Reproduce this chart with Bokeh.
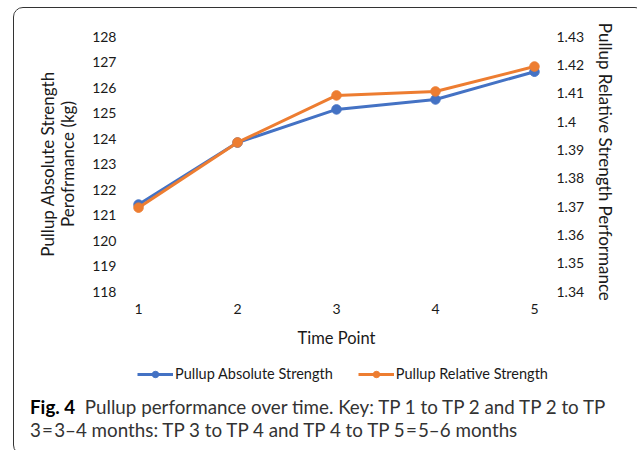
from bokeh.plotting import figure
from bokeh.models import (Range1d, LinearAxis, Legend, LegendItem,
                          FixedTicker, ColumnDataSource, Div)
from bokeh.layouts import column
from bokeh.embed import file_html
from bokeh.resources import INLINE

time_points = [1, 2, 3, 4, 5]
absolute_strength = [121.41, 123.84, 125.14, 125.53, 126.62]
relative_strength = [1.3696, 1.3926, 1.4092, 1.4106, 1.4194]
left_ticks = [118, 119, 120, 121, 122, 123, 124, 125, 126, 127, 128]
right_ticks = [1.34, 1.35, 1.36, 1.37, 1.38, 1.39, 1.40, 1.41, 1.42, 1.43]
right_tick_labels = {1.34: "1.34", 1.35: "1.35", 1.36: "1.36", 1.37: "1.37",
                     1.38: "1.38", 1.39: "1.39", 1.40: "1.4", 1.41: "1.41",
                     1.42: "1.42", 1.43: "1.43"}
series_names = ["Pullup Absolute Strength", "Pullup Relative Strength"]

BLUE = "#4472C4"
ORANGE = "#ED7D31"
FONT = "Lato"
TXT = "#1a1a1a"

# page layout: box at x 13..635, y 7..445
W = 620
H = 348
LH = 32
CH = 56
FL, FR, FT, FB = 107, 537, 28, 283  # frame in figure coords

p = figure(width=W, height=H, output_backend="svg", toolbar_location=None,
           x_range=Range1d(0.828, 5.172), y_range=Range1d(118, 128),
           min_border_left=FL, min_border_right=W - FR,
           min_border_top=FT, min_border_bottom=H - FB)
p.extra_y_ranges = {"rel": Range1d(1.34, 1.43)}
p.outline_line_color = None
p.xgrid.visible = False
p.ygrid.visible = False
p.background_fill_color = "white"
p.border_fill_color = "white"


def style_axis(ax, standoff):
    ax.axis_line_color = None
    ax.major_tick_line_color = None
    ax.minor_tick_line_color = None
    ax.major_tick_out = 0
    ax.major_tick_in = 0
    ax.minor_tick_out = 0
    ax.minor_tick_in = 0
    ax.major_label_text_font = FONT
    ax.major_label_text_font_size = "14px"
    ax.major_label_text_color = TXT
    ax.major_label_standoff = standoff
    ax.axis_label_text_font = FONT
    ax.axis_label_text_font_style = "normal"
    ax.axis_label_text_color = TXT
    ax.axis_label_text_font_size = "17px"


p.xaxis.ticker = FixedTicker(ticks=time_points)
p.yaxis.ticker = FixedTicker(ticks=left_ticks)
style_axis(p.xaxis[0], 12)
style_axis(p.yaxis[0], 5)
p.xaxis.axis_label = "Time Point"
p.xaxis.axis_label_text_font_size = "16.5px"
p.xaxis.axis_label_standoff = 11
p.yaxis.axis_label = "Perofrmance (kg)"
p.yaxis.axis_label_standoff = 11

# outer line of the two-line left axis title
lax2 = LinearAxis(ticker=FixedTicker(ticks=[]))
style_axis(lax2, 0)
lax2.axis_label = "Pullup Absolute Strength"
lax2.axis_label_standoff = -3
p.add_layout(lax2, "left")

rax = LinearAxis(y_range_name="rel", ticker=FixedTicker(ticks=right_ticks),
                 major_label_overrides=right_tick_labels)
style_axis(rax, 5)
rax.axis_label = "Pullup Relative Strength  Performance"
rax.axis_label_standoff = 8
p.add_layout(rax, "right")

src = ColumnDataSource(dict(x=time_points, a=absolute_strength, r=relative_strength))
p.line("x", "a", source=src, line_color=BLUE, line_width=3)
p.scatter("x", "a", source=src, size=9.5, fill_color=BLUE, line_color=BLUE)
p.line("x", "r", source=src, line_color=ORANGE, line_width=3, y_range_name="rel")
p.scatter("x", "r", source=src, size=9.5, fill_color=ORANGE, line_color=ORANGE,
          y_range_name="rel")

# legend strip (separate figure so the legend is not clipped by the chart frame)
lf = figure(width=W, height=LH, output_backend="svg", toolbar_location=None,
            x_range=Range1d(-10, -9), y_range=Range1d(-10, -9),
            min_border=0, min_border_left=0, min_border_right=0,
            min_border_top=0, min_border_bottom=0)
lf.axis.visible = False
lf.grid.visible = False
lf.outline_line_color = None
lf.border_fill_color = "white"
items = []
for name, col, key in zip(series_names, [BLUE, ORANGE], ["a", "r"]):
    l = lf.line("x", key, source=src, line_color=col, line_width=3)
    s = lf.scatter("x", key, source=src, size=9.5, fill_color=col, line_color=col)
    items.append(LegendItem(label=name, renderers=[l, s]))
legend = Legend(items=items, orientation="horizontal", location=(16, 6),
                label_text_font=FONT, label_text_font_size="14.5px",
                label_text_color=TXT, glyph_width=36, glyph_height=16, spacing=25,
                label_standoff=2, background_fill_alpha=0, border_line_color=None,
                padding=0, margin=0)
lf.add_layout(legend)

caption = Div(
    text=('<b style="color:#000">Fig.&nbsp;4</b>&nbsp; Pullup performance over time. '
          'Key: TP 1 to TP 2 and TP 2 to TP<br>'
          '3&#8202;=&#8202;3&ndash;4 months: TP 3 to TP 4 and TP 4 to TP 5&#8202;=&#8202;5&ndash;6 months'),
    width=W, height=CH,
    styles={"font-family": "Lato", "font-size": "18.8px", "line-height": "23px",
            "color": "#333", "padding-left": "11px", "padding-top": "2px",
            "white-space": "nowrap"})

layout = column(p, lf, caption, spacing=0,
                styles={"border": "1px solid #333", "border-radius": "10px",
                        "margin-left": "13px", "margin-top": "7px",
                        "background": "white", "overflow": "hidden"})

open("out.html", "w").write(file_html(layout, INLINE))
